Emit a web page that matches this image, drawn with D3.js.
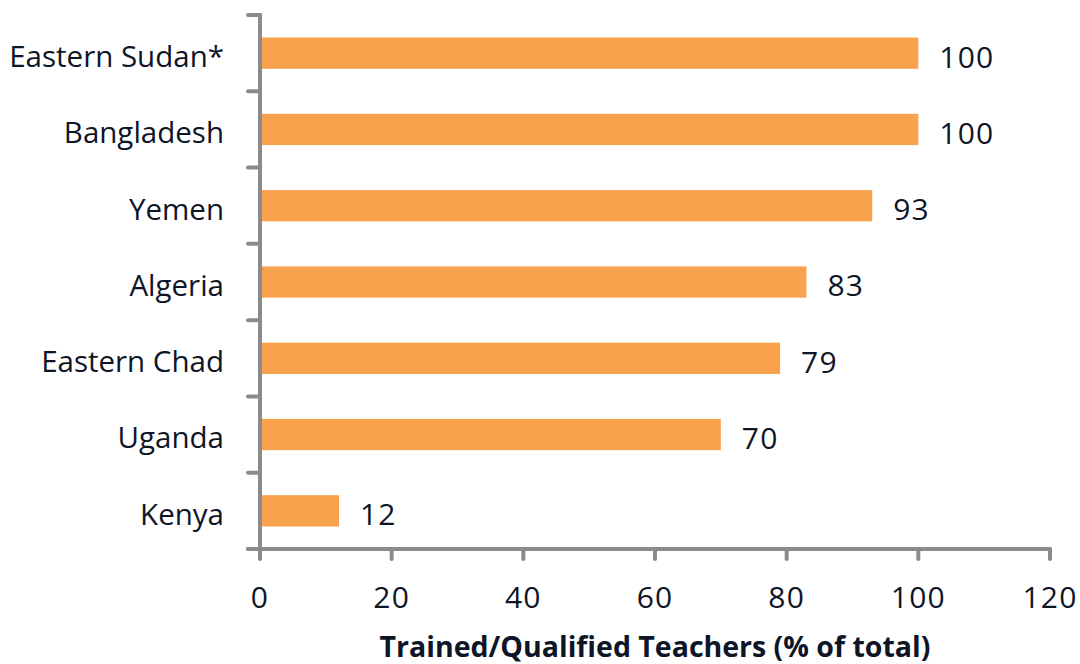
<!DOCTYPE html>
<html>
<head>
<meta charset="utf-8">
<script src="https://cdn.jsdelivr.net/npm/d3@7"></script>
<style>
  body { margin: 0; background: white; }
  text { font-family: "Open Sans", "Noto Sans", sans-serif; fill: #0d1526; }
</style>
</head>
<body>
<div id="chart"></div>
<script>
// Dados
const countries = ["Eastern Sudan*", "Bangladesh", "Yemen", "Algeria", "Eastern Chad", "Uganda", "Kenya"];
const values = [100, 100, 93, 83, 79, 70, 12];
const xTicks = [0, 20, 40, 60, 80, 100, 120];
const xTitle = "Trained/Qualified Teachers (% of total)";

const width = 1080;
const height = 664;
const margin = { top: 15, right: 30, bottom: 115, left: 260 };
const axisColor = "#8b8b8e";

const svg = d3.select("#chart")
    .append("svg")
    .attr("width", width)
    .attr("height", height);

const x = d3.scaleLinear()
    .domain([0, 120])
    .range([margin.left, 1050]);

const y = d3.scaleBand()
    .domain(countries)
    .range([margin.top, height - margin.bottom])
    .paddingInner(0.59)
    .paddingOuter(0.295);

// Barras
svg.selectAll("rect.bar")
    .data(countries)
    .enter()
    .append("rect")
    .attr("class", "bar")
    .attr("x", x(0) + 2)
    .attr("y", d => y(d))
    .attr("width", (d, i) => x(values[i]) - x(0) - 2)
    .attr("height", y.bandwidth())
    .attr("fill", "#f9a24e");

// Rótulos de valor
svg.selectAll("text.value")
    .data(countries)
    .enter()
    .append("text")
    .attr("class", "value")
    .attr("x", (d, i) => x(values[i]) + 21)
    .attr("y", d => y(d) + y.bandwidth() / 2)
    .attr("dy", "0.48em")
    .style("font-size", "30px")
    .style("letter-spacing", "1.2px")
    .text((d, i) => values[i]);

// Eixo Y: linha e marcas entre categorias
const step = y.step();
const yBounds = d3.range(countries.length + 1).map(i => margin.top + i * step);
const yBottom = height - margin.bottom;

svg.selectAll("line.ytick")
    .data(yBounds)
    .enter()
    .append("line")
    .attr("class", "ytick")
    .attr("x1", x(0) - 12)
    .attr("x2", x(0))
    .attr("y1", d => d)
    .attr("y2", d => d)
    .attr("stroke", axisColor)
    .attr("stroke-width", 4)
    .attr("stroke-linecap", "round");

// Eixo X: marcas
svg.selectAll("line.xtick")
    .data(xTicks)
    .enter()
    .append("line")
    .attr("class", "xtick")
    .attr("x1", d => x(d))
    .attr("x2", d => x(d))
    .attr("y1", yBottom)
    .attr("y2", yBottom + 10)
    .attr("stroke", axisColor)
    .attr("stroke-width", 4)
    .attr("stroke-linecap", "round");

svg.append("line")
    .attr("x1", x(0))
    .attr("x2", x(0))
    .attr("y1", margin.top)
    .attr("y2", yBottom)
    .attr("stroke", axisColor)
    .attr("stroke-width", 4)
    .attr("stroke-linecap", "round");

svg.append("line")
    .attr("x1", x(0) - 12)
    .attr("x2", x(120))
    .attr("y1", yBottom)
    .attr("y2", yBottom)
    .attr("stroke", axisColor)
    .attr("stroke-width", 4)
    .attr("stroke-linecap", "round");

// Rótulos das categorias
svg.selectAll("text.cat")
    .data(countries)
    .enter()
    .append("text")
    .attr("class", "cat")
    .attr("x", 224)
    .attr("y", d => y(d) + y.bandwidth() / 2)
    .attr("dy", "0.47em")
    .attr("text-anchor", "end")
    .style("font-size", "29.5px")
    .text(d => d);

// Rótulos dos ticks X
svg.selectAll("text.xlab")
    .data(xTicks)
    .enter()
    .append("text")
    .attr("class", "xlab")
    .attr("x", d => x(d))
    .attr("y", 608)
    .attr("text-anchor", "middle")
    .style("font-size", "30px")
    .style("letter-spacing", "1.2px")
    .text(d => d);

// Título do eixo
svg.append("text")
    .attr("x", 655)
    .attr("y", 657)
    .attr("text-anchor", "middle")
    .style("font-size", "28.5px")
    .style("font-weight", "bold")
    .text(xTitle);
</script>
</body>
</html>
